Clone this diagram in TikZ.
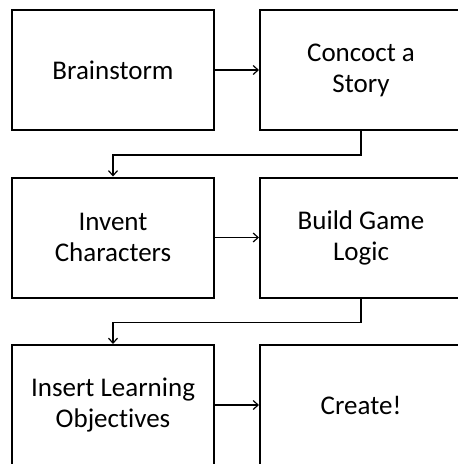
\documentclass[tikz,border=0pt]{standalone}
\usepackage{fontspec}
\setmainfont{Carlito}[Ligatures=NoCommon]
\usetikzlibrary{arrows.meta,positioning}

\begin{document}
\begin{tikzpicture}[
      x=1pt,y=-1pt,
      stagebox/.style={draw,line width=2pt,minimum width=202pt,
                  minimum height=120pt,align=center,
                  font=\fontsize{27}{31}\selectfont},
      arr/.style={-{Straight Barb[length=5pt,width=9pt,line width=1.2pt]},line width=1.2pt},
    ]

    \clip (0,0) rectangle (458,464);

    % ── Row 1 ──────────────────────────────────────────────────────────────
    \node[stagebox] (brain) at (113,70)  {Brainstorm};
    \node[stagebox] (story) at (361,70)  {Concoct a\\Story};

    % ── Row 2 ──────────────────────────────────────────────────────────────
    \node[stagebox] (chars) at (113,237.5) {Invent\\Characters};
    \node[stagebox] (logic) at (361,237.5) {Build Game\\Logic};

    % ── Row 3 ──────────────────────────────────────────────────────────────
    \node[stagebox] (goals)  at (113,405) {Insert Learning\\Objectives};
    \node[stagebox] (create) at (361,405) {Create!};

    % ── Connections ────────────────────────────────────────────────────────
    \draw[arr] (brain) -- (story);
    \draw[arr] (chars) -- (logic);
    \draw[arr] (goals) -- (create);

    \draw[arr] (story.south) -- ++(0,24) -| (chars.north);
    \draw[arr] (logic.south) -- ++(0,24) -| (goals.north);

  \end{tikzpicture}
\end{document}
